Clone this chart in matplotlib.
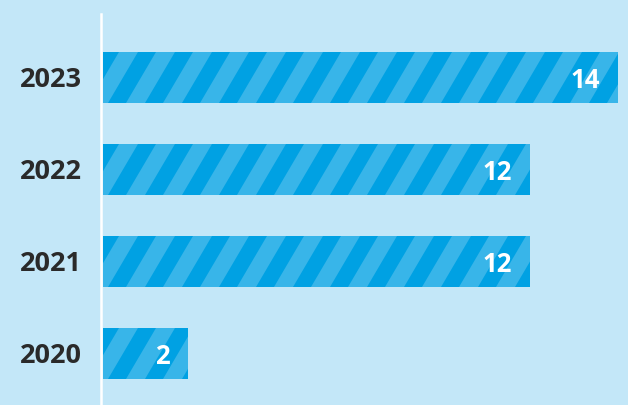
import numpy as np
import matplotlib
matplotlib.use("Agg")
import matplotlib.pyplot as plt
from matplotlib.patches import Polygon
from matplotlib.transforms import offset_copy

years = ["2020", "2021", "2022", "2023"]
lengths = [2.3, 11.6, 11.6, 14.0]   # bar lengths
labels = ["2", "12", "12", "14"]    # printed values

bg = "#C3E7F8"
dark = "#00A1E3"
light = "#38B5E9"
txt = "#2A2A2A"

W, H = 628, 405
fig = plt.figure(figsize=(W / 100, H / 100), dpi=100, facecolor=bg)
left_px, top_px = 103, 14
ax = fig.add_axes([left_px / W, 0, (W - left_px) / W, (H - top_px) / H])
ax.set_facecolor(bg)

xmax = 14.0 * (W - left_px) / 515
ax.set_xlim(0, xmax)
ax.set_ylim(-0.56, 3.69)

ypos = np.arange(len(years))
bar_h = 0.555
bars = ax.barh(ypos, lengths, height=bar_h, color=dark, zorder=2)

# pixels per data unit
sx = (W - left_px) / xmax
sy = (H - top_px) / (3.69 + 0.56)

# diagonal stripes, clipped to each bar
period, sw, slant = 37, 19, 30
for b, y in zip(bars, ypos):
    hpx = bar_h * sy
    wpx = b.get_width() * sx
    top = y + bar_h / 2
    x0 = 16
    while x0 - period < wpx + slant + period:
        pts = [(x0, 0), (x0 + sw, 0), (x0 + sw - slant, hpx), (x0 - slant, hpx)]
        poly = Polygon([(px / sx, top - py / sy) for px, py in pts],
                       closed=True, facecolor=light, edgecolor="none", zorder=3)
        ax.add_patch(poly)
        poly.set_clip_path(b)
        x0 += period

for v, y, lab in zip(lengths, ypos, labels):
    ax.text(v - 18 / sx, y, lab, ha="right", va="center_baseline", color="white",
            fontsize=18.5, fontweight="bold", family="Open Sans", zorder=4)

# year labels left of the axis line
ytr = offset_copy(ax.get_yaxis_transform(), fig=fig, x=-21, y=0, units="dots")
for y, yr in zip(ypos, years):
    ax.text(0, y, yr, transform=ytr, ha="right", va="center_baseline",
            fontsize=19.5, fontweight="bold", family="Open Sans", color=txt)

ax.set_yticks([])
ax.set_xticks([])

for s in ["top", "right", "bottom"]:
    ax.spines[s].set_visible(False)
ax.spines["left"].set_color("white")
ax.spines["left"].set_linewidth(1.8)
ax.spines["left"].set_position(("outward", 1.2))

fig.savefig("out.png", dpi=100, facecolor=bg)
